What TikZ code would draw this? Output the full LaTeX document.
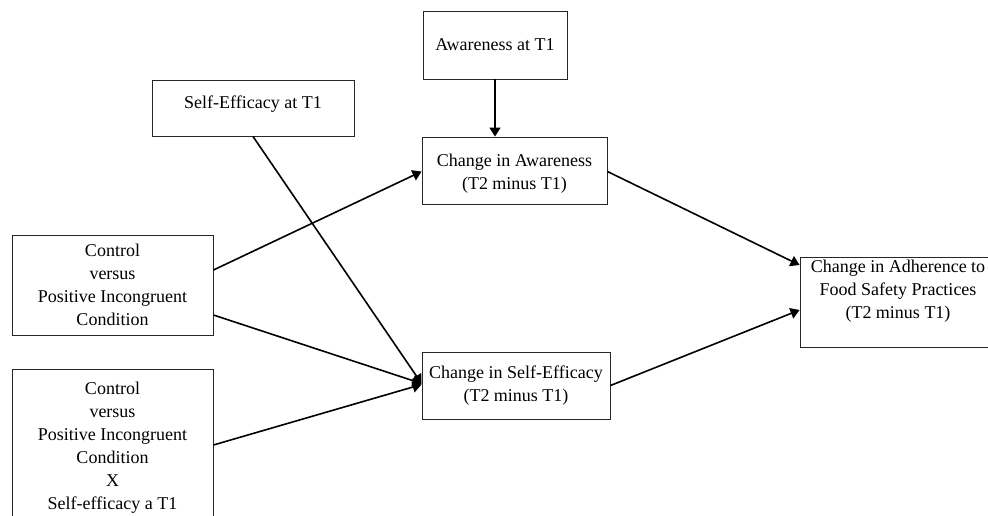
\documentclass[tikz,border=0pt]{standalone}
\usepackage{fontspec}
\setmainfont{Liberation Serif}
\usetikzlibrary{arrows.meta,calc}
\begin{document}
\begin{tikzpicture}[x=1pt,y=-1pt,
  box/.style={draw=black!85,line width=0.9pt,align=center,inner sep=0pt,font=\fontsize{18}{23}\selectfont},
  txt/.style={align=center,inner sep=0pt,font=\fontsize{18}{23}\selectfont},
  arr/.style={line width=1.6pt,-{Triangle[length=9pt,width=11pt]}}]
\useasboundingbox (0,0) rectangle (988,515);
\begin{scope}
\clip (0,0) rectangle (988,515);
\node[box,minimum width=144,minimum height=68] (awT1) at (495,45) {Awareness at T1};
\node[box,minimum width=202,minimum height=56] (seT1) at (253,108) {};
\node[txt] (seT1t) at (253,104) {Self-Efficacy at T1};
\node[box,minimum width=185,minimum height=67] (chAw) at (514.5,170.5) {};
\node[txt] (chAwt) at (514.5,173.5) {Change in Awareness\\(T2 minus T1)};
\node[box,minimum width=188,minimum height=67] (chSE) at (516,385.5) {Change in Self-Efficacy\\(T2 minus T1)};
\node[box,minimum width=196,minimum height=90] (adh) at (898,302) {};
\node[txt] (adht) at (898,291) {Change in Adherence to\\Food Safety Practices\\(T2 minus T1)};
\node[box,minimum width=201,minimum height=100] (c1) at (112.5,285) {Control\\versus\\Positive Incongruent\\Condition};
\node[box,minimum width=201,minimum height=158] (c2) at (112.5,448) {Control\\versus\\Positive Incongruent\\Condition\\X\\Self-efficacy a T1};
\draw[arr] (awT1.south) -- (awT1.south |- chAw.north);
\draw[arr] ($(c1.east)+(0,-15)$) -- ($(chAw.west)+(0,1)$);
\draw[arr] ($(c1.east)+(0,30)$) -- ($(chSE.west)+(0,-2)$);
\draw[arr] (seT1.south) -- ($(chSE.west)+(0,-2)$);
\draw[arr] ($(c2.east)+(0,-3)$) -- ($(chSE.west)+(0,-1)$);
\draw[arr] ($(chAw.east)+(0,1)$) -- ($(adh.west)+(0,-37)$);
\draw[arr] (chSE.east) -- ($(adh.west)+(0,8)$);
\end{scope}
\end{tikzpicture}
\end{document}
